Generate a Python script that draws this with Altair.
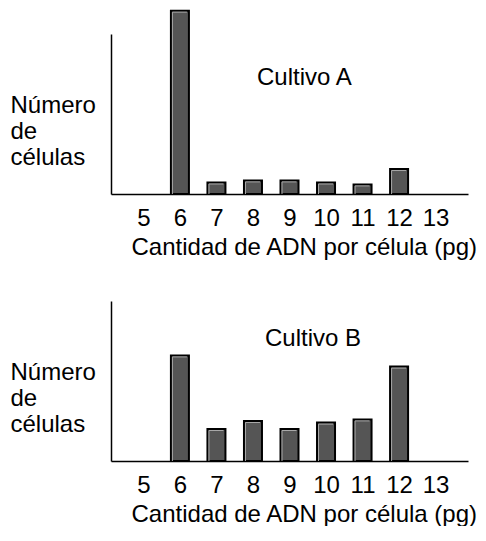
import altair as alt
import pandas as pd

# ---- data ----
dna = [6, 7, 8, 9, 10, 11, 12]
count_a = [114.6, 7.2, 8.5, 8.5, 7.2, 6.0, 15.6]
count_b = [66.0, 20.0, 25.0, 20.0, 24.0, 26.0, 59.0]
tick_values = [5, 6, 7, 8, 9, 10, 11, 12, 13]
x_title = "Cantidad de ADN por célula (pg)"
y_title = ["Número", "de", "células"]
panel_labels = ["Cultivo A", "Cultivo B"]

FONT = "Liberation Sans"
FS = 24


def panel(values, label, lx, ly):
    df = pd.DataFrame({"dna": dna, "n": values})
    x = alt.X(
        "dna:Q",
        scale=alt.Scale(domain=[4.25, 13.75], nice=False, zero=False),
        axis=alt.Axis(
            values=tick_values, ticks=False, grid=False, labelFlush=False,
            labelFontSize=FS, labelFont=FONT, labelColor="black", labelPadding=12,
            title=x_title, titleFontSize=FS, titleFont=FONT, titleFontWeight="normal",
            titleColor="black", titleAnchor="start", titleAlign="left", titleX=20,
            titlePadding=5, domainColor="black", domainWidth=1.5,
        ),
    )
    y = alt.Y(
        "n:Q",
        scale=alt.Scale(domain=[0, 100], nice=False),
        axis=alt.Axis(
            labels=False, ticks=False, grid=False,
            title=y_title, titleAngle=0, titleAlign="left", titleBaseline="alphabetic",
            titleX=-101, titleY=78, titleLineHeight=26, titleFontSize=FS,
            titleFont=FONT, titleFontWeight="normal", titleColor="black",
            domainColor="black", domainWidth=1.5,
        ),
    )
    base = alt.Chart(df)
    bars = base.mark_bar(size=18, fill="#555555", stroke="black", strokeWidth=2).encode(x=x, y=y)
    hl_left = base.mark_rule(color="#a8a8a8", strokeWidth=1, xOffset=-7.5, yOffset=1.5).encode(
        x=x, y=y, y2=alt.datum(0)
    )
    hl_top = base.mark_rule(color="#a8a8a8", strokeWidth=1, xOffset=-7.5, x2Offset=7, yOffset=1.5).encode(
        x=x, x2="dna:Q", y=y
    )
    txt = alt.Chart(pd.DataFrame({"label": [label]})).mark_text(
        align="left", baseline="alphabetic", fontSize=FS, font=FONT, color="black"
    ).encode(x=alt.value(lx), y=alt.value(ly), text="label:N")
    return alt.layer(bars, hl_left, hl_top, txt).properties(width=357, height=160)


top = panel(count_a, panel_labels[0], 146, 51)
bottom = panel(count_b, panel_labels[1], 154, 45)

chart = alt.vconcat(top, bottom, spacing=42).properties(
    padding={"left": 2, "top": 1, "right": 0, "bottom": 0},
    background="white",
).configure_view(stroke=None)

chart.save("out.html", embed_options={"renderer": "svg", "actions": False})
